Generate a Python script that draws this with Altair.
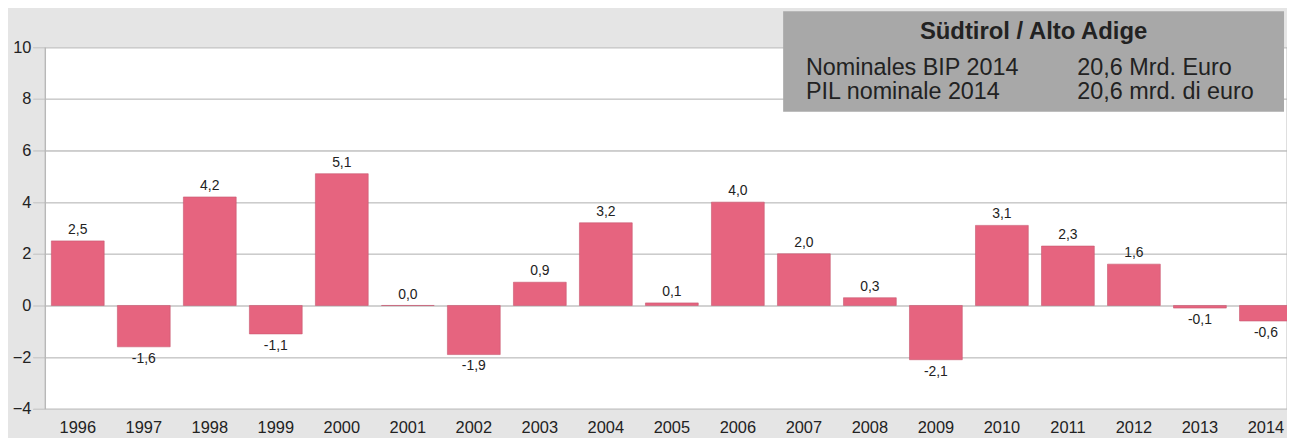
import altair as alt
import pandas as pd

years = [str(y) for y in range(1996, 2015)]
values = [2.5, -1.6, 4.2, -1.1, 5.1, 0.0, -1.9, 0.9, 3.2, 0.1, 4.0, 2.0, 0.3, -2.1, 3.1, 2.3, 1.6, -0.1, -0.6]
labels = [f"{v:.1f}".replace(".", ",") for v in values]

box_title = "Südtirol / Alto Adige"
box_left = ["Nominales BIP 2014", "PIL nominale 2014"]
box_right = ["20,6 Mrd. Euro", "20,6 mrd. di euro"]

df = pd.DataFrame({"year": years, "value": values, "label": labels})

FONT = "Liberation Sans"
BAR = "#e6647f"

x = alt.X("year:N", title=None, sort=years,
          scale=alt.Scale(paddingInner=0.2, paddingOuter=0.1, range=[0, 1262]),
          axis=alt.Axis(labelAngle=0, domain=False, ticks=False, labelPadding=11,
                        labelFontSize=16.5, labelColor="#222", labelFont=FONT))
y = alt.Y("value:Q", title=None,
          scale=alt.Scale(domain=[-4, 10], nice=False),
          axis=alt.Axis(values=[-4, -2, 0, 2, 4, 6, 8, 10], domain=True, domainColor="#b8b8b8",
                        domainWidth=1.5, ticks=False, labelPadding=14, labelFontSize=16.5,
                        labelColor="#222", labelFont=FONT, grid=True, gridColor="#cccccc",
                        gridWidth=1.2))

base = alt.Chart(df)

bars = base.mark_bar(color=BAR, stroke="#c85870", strokeWidth=0.6).encode(x=x, y=y, y2=alt.datum(0))

pos = base.transform_filter("datum.value >= 0").mark_text(
    baseline="bottom", dy=-4, fontSize=14, font=FONT, color="#222"
).encode(x=x, y=y, text="label:N")
neg = base.transform_filter("datum.value < 0").mark_text(
    baseline="top", dy=5, fontSize=14, font=FONT, color="#222"
).encode(x=x, y=y, text="label:N")

box_df = pd.DataFrame({"k": [0]})
box = alt.Chart(box_df).mark_rect(color="#a8a8a8", clip=False).encode(
    x=alt.value(743), x2=alt.value(1247), y=alt.value(-36), y2=alt.value(65))

title_t = alt.Chart(box_df).mark_text(
    text=box_title, fontSize=24, fontWeight="bold", font=FONT, color="#222",
    align="center", baseline="middle").encode(x=alt.value(995), y=alt.value(-15))

rows = pd.DataFrame({"left": box_left, "right": box_right, "row": [0, 1]})
left_t = alt.Chart(rows).transform_calculate(py="21 + datum.row * 24").mark_text(
    fontSize=23.5, font=FONT, color="#222", align="left", baseline="middle"
).encode(x=alt.value(766), y=alt.Y("py:Q", scale=None), text="left:N")
right_t = alt.Chart(rows).transform_calculate(py="21 + datum.row * 24").mark_text(
    fontSize=23.5, font=FONT, color="#222", align="left", baseline="middle"
).encode(x=alt.value(1039), y=alt.Y("py:Q", scale=None), text="right:N")

chart = alt.layer(bars, pos, neg, box, title_t, left_t, right_t).properties(
    width=1250, height=364,
    autosize=alt.AutoSizeParams(type="none"),
    padding={"left": 37, "top": 38, "right": 0, "bottom": 28},
    background="#e5e5e5",
).configure_view(fill="white", stroke=None).resolve_scale(y="independent")

chart.save("out.html", embed_options={"renderer": "svg", "actions": False})
